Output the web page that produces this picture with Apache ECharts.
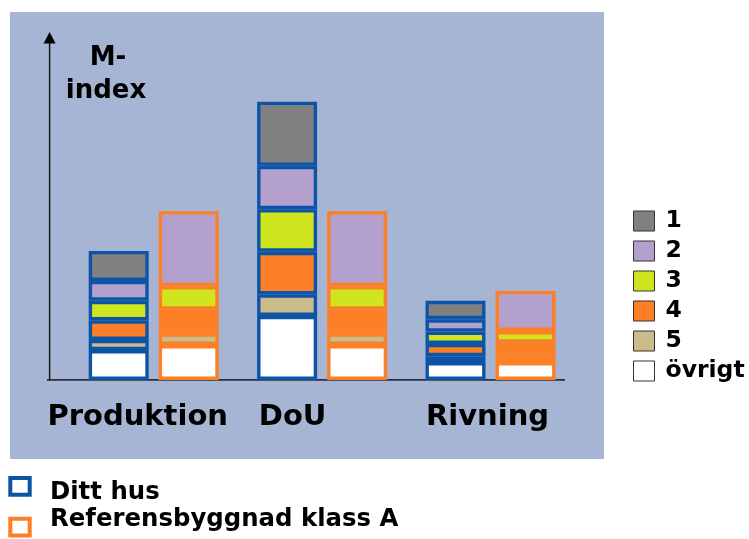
<!DOCTYPE html>
<html>
<head>
<meta charset="utf-8">
<script src="https://cdn.jsdelivr.net/npm/echarts@6/dist/echarts.min.js"></script>
<style>
html,body{margin:0;padding:0;background:#fff;}
#c{width:749px;height:539px;}
</style>
</head>
<body>
<div id="c"></div>
<script>
// ---- data (M-index, arbitrary units) ----
const categories = ['Produktion', 'DoU', 'Rivning'];
const segmentNames = ['övrigt', '5', '4', '3', '2', '1']; // bottom -> top
const legendOrder = ['1', '2', '3', '4', '5', 'övrigt'];
// Ditt hus
const dittOvrigt = [10.7, 22.9, 6.4];
const ditt5      = [3.6, 7.7, 2.1];
const ditt4      = [7.0, 15.2, 4.4];
const ditt3      = [7.0, 15.2, 4.4];
const ditt2      = [7.1, 15.5, 4.4];
const ditt1      = [10.7, 22.9, 6.6];
// Referensbyggnad klass A
const refOvrigt = [12.5, 12.5, 6.4];
const ref5      = [4.2, 4.2, 2.4];
const ref4      = [8.4, 8.4, 4.5];
const ref3      = [8.4, 8.4, 4.2];
const ref2      = [26.8, 26.8, 14.3];
const ref1      = [null, null, null];
const groupNames = ['Ditt hus', 'Referensbyggnad klass A'];

// ---- styles ----
const fills = { '1': '#808080', '2': '#b3a0cc', '3': '#cfe61f', '4': '#fd7f26', '5': '#cbbd8b', 'övrigt': '#ffffff' };
const blue = '#0c55a6', orange = '#fd7f26';
const bg = '#a6b5d3';
const font = '"DejaVu Sans", Verdana, sans-serif';

const dittData = [dittOvrigt, ditt5, ditt4, ditt3, ditt2, ditt1];
const refData = [refOvrigt, ref5, ref4, ref3, ref2, ref1];

const series = [];
segmentNames.forEach((n, i) => {
  series.push({
    name: n, type: 'bar', stack: 'ditt', data: dittData[i],
    barWidth: 60, barGap: '16.67%',
    itemStyle: { color: fills[n], borderColor: blue, borderWidth: 3.4 },
    emphasis: { disabled: true }, z: 3
  });
});
segmentNames.forEach((n, i) => {
  series.push({
    name: n, type: 'bar', stack: 'ref', data: refData[i],
    barWidth: 60, barGap: '16.67%',
    itemStyle: { color: fills[n], borderColor: orange, borderWidth: 3.4 },
    emphasis: { disabled: true }, z: 3
  });
});

const labelShift = { c0: 32, c1: 59, c2: 6 };
const rich = {};
Object.keys(labelShift).forEach(k => {
  rich[k] = { fontFamily: font, fontWeight: 'bold', fontSize: 29, color: '#000', padding: [0, labelShift[k], 0, 0] };
});

const chart = echarts.init(document.getElementById('c'), null, { renderer: 'canvas' });
chart.setOption({
  animation: false,
  backgroundColor: '#ffffff',
  grid: { left: 69.5, right: 174.3, top: 44, bottom: 159 },
  xAxis: {
    type: 'category', data: categories,
    axisLine: { show: false }, axisTick: { show: false },
    axisLabel: {
      margin: 23, interval: 0,
      formatter: (v, i) => '{c' + i + '|' + v + '}',
      rich: rich
    }
  },
  yAxis: { type: 'value', min: 0, max: 120, show: false },
  legend: {
    data: legendOrder, orient: 'vertical', left: 633, top: 209, padding: 0,
    itemWidth: 21, itemHeight: 20, itemGap: 6,
    icon: 'rect',
    itemStyle: { borderColor: '#333', borderWidth: 1 },
    textStyle: { fontFamily: font, fontWeight: 'bold', fontSize: 23.5, color: '#000', lineHeight: 20, padding: [0, 0, 0, 6] },
    selectedMode: false
  },
  series: series,
  graphic: [
    { type: 'rect', z: -10, shape: { x: 10, y: 12, width: 594, height: 447 }, style: { fill: bg } },
    { type: 'line', z: 1, shape: { x1: 47, y1: 379.8, x2: 565, y2: 379.8 }, style: { stroke: '#2a2f3a', lineWidth: 1.8 } },
    { type: 'line', z: 1, shape: { x1: 49.6, y1: 380.6, x2: 49.6, y2: 40 }, style: { stroke: '#111', lineWidth: 1.4 } },
    { type: 'polygon', z: 1, shape: { points: [[49.6, 32], [43.6, 43.5], [55.6, 43.5]] }, style: { fill: '#000' } },
    { type: 'text', z: 5, x: 108, y: 58, style: { text: 'M-', font: 'bold 26px ' + font, fill: '#000', align: 'center', verticalAlign: 'middle' } },
    { type: 'text', z: 5, x: 106, y: 91, style: { text: 'index', font: 'bold 26px ' + font, fill: '#000', align: 'center', verticalAlign: 'middle' } },
    { type: 'rect', z: 5, shape: { x: 10.3, y: 478, width: 19.4, height: 16.7 }, style: { fill: 'none', stroke: blue, lineWidth: 4 } },
    { type: 'rect', z: 5, shape: { x: 10.3, y: 518.7, width: 19.4, height: 16.7 }, style: { fill: 'none', stroke: orange, lineWidth: 4 } },
    { type: 'text', z: 5, x: 50, y: 492.5, style: { text: groupNames[0], font: 'bold 24.4px ' + font, fill: '#000', align: 'left', verticalAlign: 'middle' } },
    { type: 'text', z: 5, x: 50, y: 519.5, style: { text: groupNames[1], font: 'bold 24.4px ' + font, fill: '#000', align: 'left', verticalAlign: 'middle' } }
  ]
});
</script>
</body>
</html>
